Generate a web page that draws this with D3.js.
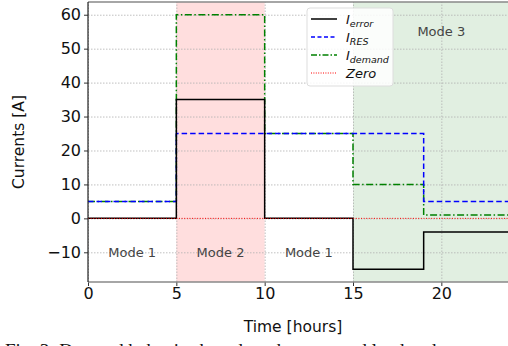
<!DOCTYPE html>
<html>
<head>
<meta charset="utf-8">
<script src="https://cdn.jsdelivr.net/npm/d3@7"></script>
<style>
  body { margin: 0; background: #fff; }
  svg { display: block; font-family: "DejaVu Sans", sans-serif; }
</style>
</head>
<body>
<div id="chart"></div>
<script>
// step breakpoints (hours) and values held on each interval
const timeBreaks = [0, 5, 10, 15, 19, 24];
const iError = [0, 35, 0, -15, -4];
const iRes = [5, 25, 25, 25, 5];
const iDemand = [5, 60, 25, 10, 1];
const zero = [0, 0, 0, 0, 0];

const xTicks = [0, 5, 10, 15, 20];
const yTicks = [-10, 0, 10, 20, 30, 40, 50, 60];

const modes = [
    { label: "Mode 1", x: 2.5, y: -10 },
    { label: "Mode 2", x: 7.5, y: -10 },
    { label: "Mode 1", x: 12.5, y: -10 },
    { label: "Mode 3", x: 20, y: 55 }
];
const bands = [
    { from: 5, to: 10, color: "#ffdede" },
    { from: 15, to: 24, color: "#e1efe1" }
];

const width = 508;
const height = 346;
const margin = { top: 2, right: -4, bottom: 64, left: 88 };

const svg = d3.select("#chart").append("svg")
    .attr("width", width)
    .attr("height", height);

const x = d3.scaleLinear().domain([0, 24]).range([margin.left, width - margin.right]);
const y = d3.scaleLinear().domain([-18.75, 63.75]).range([height - margin.bottom, margin.top]);

const plot = svg.append("g");

// shaded mode regions
plot.selectAll("rect.band").data(bands)
    .enter().append("rect")
    .attr("class", "band")
    .attr("x", d => x(d.from))
    .attr("width", d => x(d.to) - x(d.from))
    .attr("y", y(63.75))
    .attr("height", y(-18.75) - y(63.75))
    .attr("fill", d => d.color);

// grid
const gridY = plot.append("g").call(d3.axisLeft(y).tickValues(yTicks).tickSize(-(x(24) - x(0))).tickFormat(""))
    .attr("transform", `translate(${x(0)},0)`);
gridY.select(".domain").remove();
gridY.selectAll("line").attr("stroke", "#b0b0b0").attr("stroke-width", 0.8).attr("stroke-dasharray", "1.5,1.5");

const gridX = plot.append("g").call(d3.axisBottom(x).tickValues(xTicks).tickSize(-(y(-18.75) - y(63.75))).tickFormat(""))
    .attr("transform", `translate(0,${y(-18.75)})`);
gridX.select(".domain").remove();
gridX.selectAll("line").attr("stroke", "#b0b0b0").attr("stroke-width", 0.8).attr("stroke-dasharray", "1.5,1.5");

// step lines
const stepPoints = vals => {
    const pts = vals.map((v, i) => ({ t: timeBreaks[i], v }));
    pts.push({ t: timeBreaks[timeBreaks.length - 1], v: vals[vals.length - 1] });
    return pts;
};
const line = d3.line().x(d => x(d.t)).y(d => y(d.v)).curve(d3.curveStepAfter);

const series = [
    { vals: iDemand, color: "green", dash: "7,2.5,1.5,2.5", w: 1.5 },
    { vals: iRes, color: "blue", dash: "5.5,3", w: 1.5 },
    { vals: iError, color: "black", dash: null, w: 1.5 },
    { vals: zero, color: "red", dash: "1,1.6", w: 1 }
];
series.forEach(s => {
    plot.append("path")
        .attr("fill", "none")
        .attr("stroke", s.color)
        .attr("stroke-width", s.w)
        .attr("stroke-dasharray", s.dash)
        .attr("d", line(stepPoints(s.vals)));
});

// mode labels
plot.selectAll("text.mode").data(modes)
    .enter().append("text")
    .attr("class", "mode")
    .attr("x", d => x(d.x))
    .attr("y", d => y(d.y))
    .attr("dy", "0.35em")
    .attr("text-anchor", "middle")
    .attr("font-size", 13)
    .attr("fill", "#444")
    .text(d => d.label);

// axes
const yAxisG = svg.append("g").call(d3.axisLeft(y).tickValues(yTicks).tickSize(4).tickPadding(3)
        .tickFormat(d => d < 0 ? "\u2212" + Math.abs(d) : d))
    .attr("transform", `translate(${x(0)},0)`);
yAxisG.select(".domain").remove();
yAxisG.selectAll("line").attr("stroke", "#333");
yAxisG.selectAll("text").attr("font-size", 16).attr("fill", "#111").attr("font-family", "DejaVu Sans");

const xAxisG = svg.append("g").call(d3.axisBottom(x).tickValues(xTicks).tickSize(4).tickPadding(2))
    .attr("transform", `translate(0,${y(-18.75)})`);
xAxisG.select(".domain").remove();
xAxisG.selectAll("line").attr("stroke", "#333");
xAxisG.selectAll("text").attr("font-size", 16).attr("fill", "#111").attr("font-family", "DejaVu Sans");

// spines
svg.append("line").attr("x1", x(0)).attr("x2", width).attr("y1", y(63.75)).attr("y2", y(63.75))
    .attr("stroke", "#888").attr("stroke-width", 1.5);
svg.append("line").attr("x1", x(0)).attr("x2", width).attr("y1", y(-18.75)).attr("y2", y(-18.75))
    .attr("stroke", "#888").attr("stroke-width", 1.5);
svg.append("line").attr("x1", x(0)).attr("x2", x(0)).attr("y1", y(63.75)).attr("y2", y(-18.75))
    .attr("stroke", "#222").attr("stroke-width", 1.2);

// axis labels
svg.append("text")
    .attr("x", 293).attr("y", 332)
    .attr("text-anchor", "middle")
    .attr("font-size", 15.5).attr("fill", "#111")
    .text("Time [hours]");
svg.append("text")
    .attr("transform", `translate(24,${(y(63.75) + y(-18.75)) / 2}) rotate(-90)`)
    .attr("text-anchor", "middle")
    .attr("font-size", 15.5).attr("fill", "#111")
    .text("Currents [A]");

// legend
const legend = svg.append("g").attr("transform", "translate(307,8)");
legend.append("rect")
    .attr("width", 86).attr("height", 78).attr("rx", 3)
    .attr("fill", "rgba(255,255,255,0.85)").attr("stroke", "#ddd");
const legendItems = [
    { color: "black", dash: null, w: 1.5, main: "I", sub: "error" },
    { color: "blue", dash: "4,2.5", w: 1.5, main: "I", sub: "RES" },
    { color: "green", dash: "6,2,1.5,2", w: 1.5, main: "I", sub: "demand" },
    { color: "red", dash: "1,1.4", w: 1, main: "Zero", sub: "" }
];
legendItems.forEach((d, i) => {
    const gy = 11 + i * 18;
    legend.append("line")
        .attr("x1", 4).attr("x2", 30).attr("y1", gy).attr("y2", gy)
        .attr("stroke", d.color).attr("stroke-width", d.w).attr("stroke-dasharray", d.dash);
    const t = legend.append("text")
        .attr("x", 39).attr("y", gy + 4.5)
        .attr("font-size", 13).attr("font-style", "italic").attr("fill", "#111");
    t.append("tspan").text(d.main);
    if (d.sub) {
        t.append("tspan").attr("dy", 3).attr("font-size", 9.5).text(d.sub);
    }
});

// caption (cut off at the bottom of the picture, as in the source)
svg.append("text")
    .attr("x", 5).attr("y", 357)
    .attr("font-family", "Liberation Serif, serif")
    .attr("font-size", 19).attr("fill", "#111")
    .text("Fig. 3: Demand behavior based on the expected load and");
</script>
</body>
</html>
